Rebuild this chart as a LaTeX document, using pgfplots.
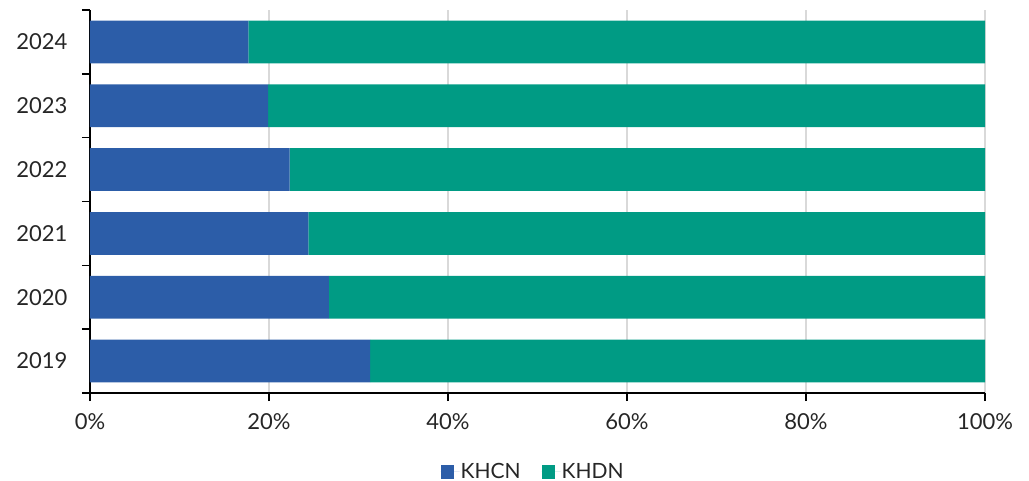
\documentclass[border=0pt]{standalone}
\usepackage{pgfplots}
\pgfplotsset{compat=1.18}
\usepackage{fontspec}
\setmainfont{Lato}
\definecolor{khcn}{RGB}{44,93,168}
\definecolor{khdn}{RGB}{0,155,132}
\definecolor{gridgrey}{RGB}{217,217,217}
\begin{document}
\begin{tikzpicture}
\path[use as bounding box] (-90bp,-88bp) rectangle (939bp,393bp);
\begin{axis}[
  scale only axis,
  width=895bp, height=383bp,
  xbar stacked,
  bar width=0.67,
  xmin=0, xmax=100,
  ymin=-0.5, ymax=5.5,
  xtick={0,20,...,100},
  xticklabel={\pgfmathprintnumber{\tick}\%},
  ytick={0,...,5},
  yticklabels={2019,2020,2021,2022,2023,2024},
  minor ytick={-0.5,0.5,...,5.5},
  axis x line*=bottom,
  axis y line*=left,
  axis line style={line width=1.6bp,-},
  tick align=outside,
  major tick length=8bp,
  minor tick length=8bp,
  tick style={black,line width=1.6bp},
  every major y tick/.append style={draw=none},
  xmajorgrids=true,
  grid style={gridgrey,line width=1.6bp},
  tick label style={font=\fontsize{22bp}{25bp}\selectfont,text=black!85},
  /pgf/number format/assume math mode=true,
  xticklabel style={yshift=-9bp},
  yticklabel style={xshift=-11bp},
  legend style={draw=none,at={(0.4945,-0.205)},anchor=center,
    font=\fontsize{21bp}{24bp}\selectfont,text=black!85,
    inner sep=0bp, nodes={inner sep=1bp},
    legend columns=2,
    /tikz/every even column/.append style={column sep=20bp}},
  legend image code/.code={\fill[#1] (0bp,-7bp) rectangle (13bp,7bp);
    \path (0bp,0bp) -- (19bp,0bp);},
]
\addplot[fill=khcn,draw=none] coordinates {
(31.3,0) (26.7,1) (24.4,2) (22.3,3) (19.9,4) (17.7,5)
};
\addplot[fill=khdn,draw=none] coordinates {
(68.7,0) (73.3,1) (75.6,2) (77.7,3) (80.1,4) (82.3,5)
};
\legend{KHCN,KHDN}
\end{axis}
\end{tikzpicture}
\end{document}
